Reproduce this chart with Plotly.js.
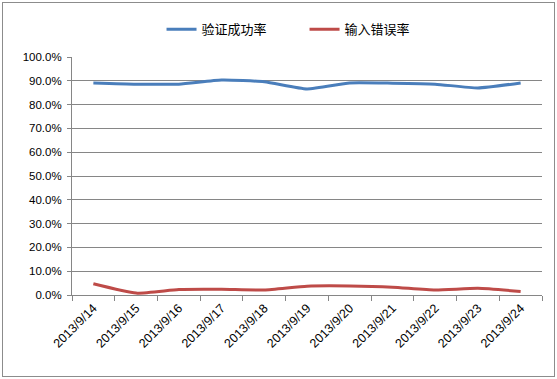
<!DOCTYPE html>
<html>
<head>
<meta charset="utf-8">
<script src="https://cdn.plot.ly/plotly-3.0.1.min.js"></script>
<style>
html,body{margin:0;padding:0;background:#fff;}
#wrap{position:relative;width:557px;height:379px;}
#chart{width:557px;height:379px;}
#frame{position:absolute;left:2px;top:2px;width:551px;height:373px;border:1px solid #8c8c8c;pointer-events:none;}
</style>
</head>
<body>
<div id="wrap"><div id="chart"></div><div id="frame"></div></div>
<script>
const dates = ['2013/9/14','2013/9/15','2013/9/16','2013/9/17','2013/9/18','2013/9/19','2013/9/20','2013/9/21','2013/9/22','2013/9/23','2013/9/24'];
const successRate = [0.891, 0.886, 0.886, 0.903, 0.896, 0.866, 0.891, 0.890, 0.886, 0.870, 0.891];
const errorRate = [0.047, 0.008, 0.023, 0.024, 0.021, 0.037, 0.038, 0.033, 0.021, 0.028, 0.015];
const seriesNames = ['验证成功率', '输入错误率'];

const traces = [
  {x: dates, y: successRate, name: seriesNames[0], type: 'scatter', mode: 'lines',
   line: {color: '#4A7EBB', width: 3, shape: 'spline', smoothing: 0.5}},
  {x: dates, y: errorRate, name: seriesNames[1], type: 'scatter', mode: 'lines',
   line: {color: '#BE4B48', width: 3, shape: 'spline', smoothing: 0.5}}
];

const layout = {
  width: 557, height: 379,
  margin: {l: 72, r: 15, t: 57, b: 84},
  paper_bgcolor: '#fff', plot_bgcolor: '#fff',
  showlegend: true,
  legend: {orientation: 'h', xref: 'container', yref: 'container', x: 0.29, xanchor: 'left', y: 0.923, yanchor: 'middle',
    font: {family: 'Noto Sans CJK SC', size: 13, color: '#000'}, entrywidth: 98, entrywidthmode: 'pixels', itemclick: false},
  xaxis: {type: 'category', range: [-0.5, dates.length - 0.5], tickangle: -45, tickson: 'boundaries', ticks: 'outside', ticklen: 5, tickcolor: '#868686',
    showline: true, linecolor: '#868686', linewidth: 1, showgrid: false, zeroline: false,
    tickfont: {family: 'Liberation Sans', size: 12.5, color: '#000'}, fixedrange: true},
  yaxis: {range: [0, 1], dtick: 0.1, tick0: 0, tickformat: '.1%', ticks: 'outside', ticklen: 4, tickcolor: '#868686',
    showline: true, linecolor: '#868686', linewidth: 1, showgrid: true, gridcolor: '#868686', gridwidth: 1, zeroline: false,
    tickfont: {family: 'Liberation Sans', size: 11.5, color: '#000'}, ticklabelstandoff: 3, fixedrange: true}
};

Plotly.newPlot('chart', traces, layout, {displayModeBar: false, staticPlot: true});
</script>
</body>
</html>
